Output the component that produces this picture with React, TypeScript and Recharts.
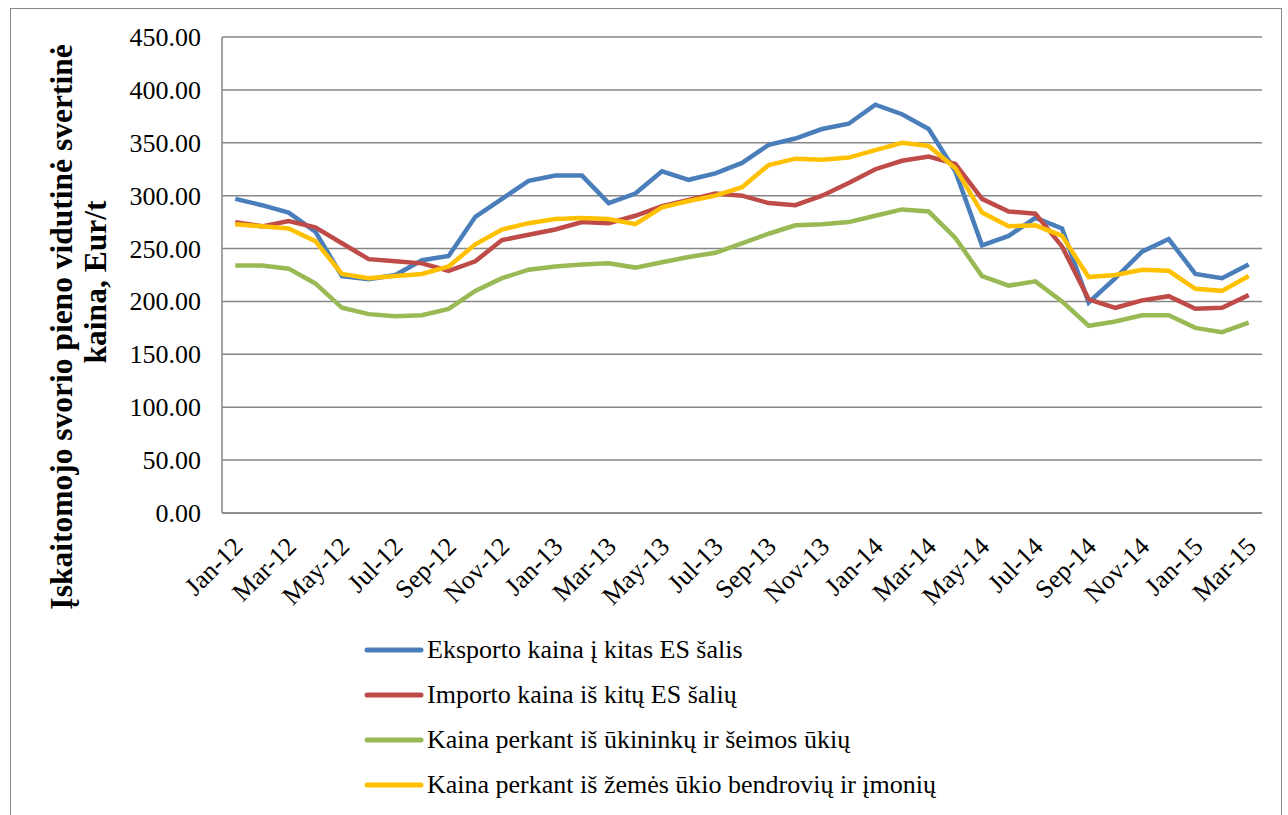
import React from 'react';
import { LineChart, Line, XAxis, YAxis, CartesianGrid, Legend } from 'recharts';

const months = [
  'Jan-12','Feb-12','Mar-12','Apr-12','May-12','Jun-12','Jul-12','Aug-12','Sep-12','Oct-12','Nov-12','Dec-12',
  'Jan-13','Feb-13','Mar-13','Apr-13','May-13','Jun-13','Jul-13','Aug-13','Sep-13','Oct-13','Nov-13','Dec-13',
  'Jan-14','Feb-14','Mar-14','Apr-14','May-14','Jun-14','Jul-14','Aug-14','Sep-14','Oct-14','Nov-14','Dec-14',
  'Jan-15','Feb-15','Mar-15',
];

const exportPrice = [297, 291, 284, 266, 224, 221, 225, 239, 243, 280, 297, 314, 319, 319, 293, 302, 323, 315, 321, 331, 348, 354, 363, 368, 386, 377, 363, 323, 253, 262, 279, 269, 199, 222, 247, 259, 226, 222, 235];
const importPrice = [275, 271, 276, 270, 255, 240, 238, 236, 229, 238, 258, 263, 268, 275, 274, 281, 290, 296, 302, 300, 293, 291, 300, 312, 325, 333, 337, 330, 297, 285, 283, 252, 202, 194, 201, 205, 193, 194, 206];
const farmersPrice = [234, 234, 231, 217, 194, 188, 186, 187, 193, 210, 222, 230, 233, 235, 236, 232, 237, 242, 246, 255, 264, 272, 273, 275, 281, 287, 285, 260, 224, 215, 219, 200, 177, 181, 187, 187, 175, 171, 180];
const companiesPrice = [273, 271, 269, 257, 226, 222, 224, 226, 233, 254, 268, 274, 278, 279, 278, 273, 289, 295, 300, 308, 329, 335, 334, 336, 343, 350, 347, 326, 284, 271, 272, 262, 223, 225, 230, 229, 212, 210, 224];

const yTicks = [0, 50, 100, 150, 200, 250, 300, 350, 400, 450];

const seriesNames = [
  'Eksporto kaina į kitas ES šalis',
  'Importo kaina iš kitų ES šalių',
  'Kaina perkant iš ūkininkų ir šeimos ūkių',
  'Kaina perkant iš žemės ūkio bendrovių ir įmonių',
];
const seriesKeys = ['exp', 'imp', 'farm', 'comp'];
const seriesColors = ['#4A7EBB', '#BE4B48', '#98B954', '#FFC000'];

const yLabelLines = ['Įskaitomojo svorio pieno vidutinė svertinė', 'kaina, Eur/t'];

const data = months.map((m, i) => ({
  month: m,
  exp: exportPrice[i],
  imp: importPrice[i],
  farm: farmersPrice[i],
  comp: companiesPrice[i],
}));

const FONT = '"Liberation Serif", "Times New Roman", serif';

const XTick = (props: any) => {
  const { x, y, payload } = props;
  const ax = x + 9;
  const ay = y + 27;
  return (
    <text
      x={ax}
      y={ay}
      transform={`rotate(-45, ${ax}, ${ay})`}
      textAnchor="end"
      fontSize={26}
      fontFamily={FONT}
      fill="#000"
    >
      {payload.value}
    </text>
  );
};

const YTick = (props: any) => {
  const { x, y, payload } = props;
  return (
    <text x={x} y={y} dy={9} textAnchor="end" fontSize={26} fontFamily={FONT} fill="#000">
      {Number(payload.value).toFixed(2)}
    </text>
  );
};

const YLabel = () => {
  return (
    <g>
      <text
        x={72}
        y={327}
        transform={`rotate(-90, 72, 327)`}
        textAnchor="middle"
        fontSize={31.5}
        fontWeight="bold"
        fontFamily={FONT}
        fill="#000"
      >
        {yLabelLines[0]}
      </text>
      <text
        x={106}
        y={282}
        transform={`rotate(-90, 106, 282)`}
        textAnchor="middle"
        fontSize={31.5}
        fontWeight="bold"
        fontFamily={FONT}
        fill="#000"
      >
        {yLabelLines[1]}
      </text>
    </g>
  );
};

const LegendContent = () => (
  <div style={{ fontFamily: FONT, fontSize: 26, color: '#000' }}>
    {seriesNames.map((n, i) => (
      <div key={n} style={{ height: 45, display: 'flex', alignItems: 'center', whiteSpace: 'nowrap' }}>
        <svg width={60} height={10} style={{ marginRight: 3 }}>
          <line x1={3} y1={5} x2={57} y2={5} stroke={seriesColors[i]} strokeWidth={5} strokeLinecap="round" />
        </svg>
        <span>{n}</span>
      </div>
    ))}
  </div>
);

export default function App() {
  return (
    <div style={{ position: 'absolute', left: 0, top: 0, width: 1288, height: 815, background: '#fff', overflow: 'hidden' }}>
      <div
        style={{
          position: 'absolute',
          left: 10,
          top: 8,
          width: 1272,
          height: 820,
          border: '1.5px solid #888',
          boxSizing: 'border-box',
        }}
      />
      <div style={{ position: 'absolute', left: 0, top: 0 }}>
        <LineChart
          width={1288}
          height={815}
          data={data}
          margin={{ top: 37, right: 26, left: 0, bottom: 202 }}
        >
          <CartesianGrid horizontal={true} vertical={false} stroke="#868686" strokeWidth={1.5} />
          <XAxis
            dataKey="month"
            height={100}
            interval={1}
            padding={{ left: 13.3, right: 13.3 }}
            tickLine={false}
            axisLine={{ stroke: '#868686', strokeWidth: 1.5 }}
            tick={<XTick />}
          />
          <YAxis
            width={222}
            domain={[0, 450]}
            ticks={yTicks}
            tickLine={false}
            tickMargin={15}
            axisLine={{ stroke: '#868686', strokeWidth: 1.5 }}
            tick={<YTick />}
            label={<YLabel />}
          />
          {seriesKeys.map((k, i) => (
            <Line
              key={k}
              type="linear"
              dataKey={k}
              name={seriesNames[i]}
              stroke={seriesColors[i]}
              strokeWidth={4.5}
              dot={false}
              activeDot={false}
              isAnimationActive={false}
            />
          ))}
          <Legend
            layout="vertical"
            align="center"
            verticalAlign="middle"
            content={<LegendContent />}
            wrapperStyle={{ position: 'absolute', left: 364, top: 627, width: 640 }}
          />
        </LineChart>
      </div>
    </div>
  );
}
